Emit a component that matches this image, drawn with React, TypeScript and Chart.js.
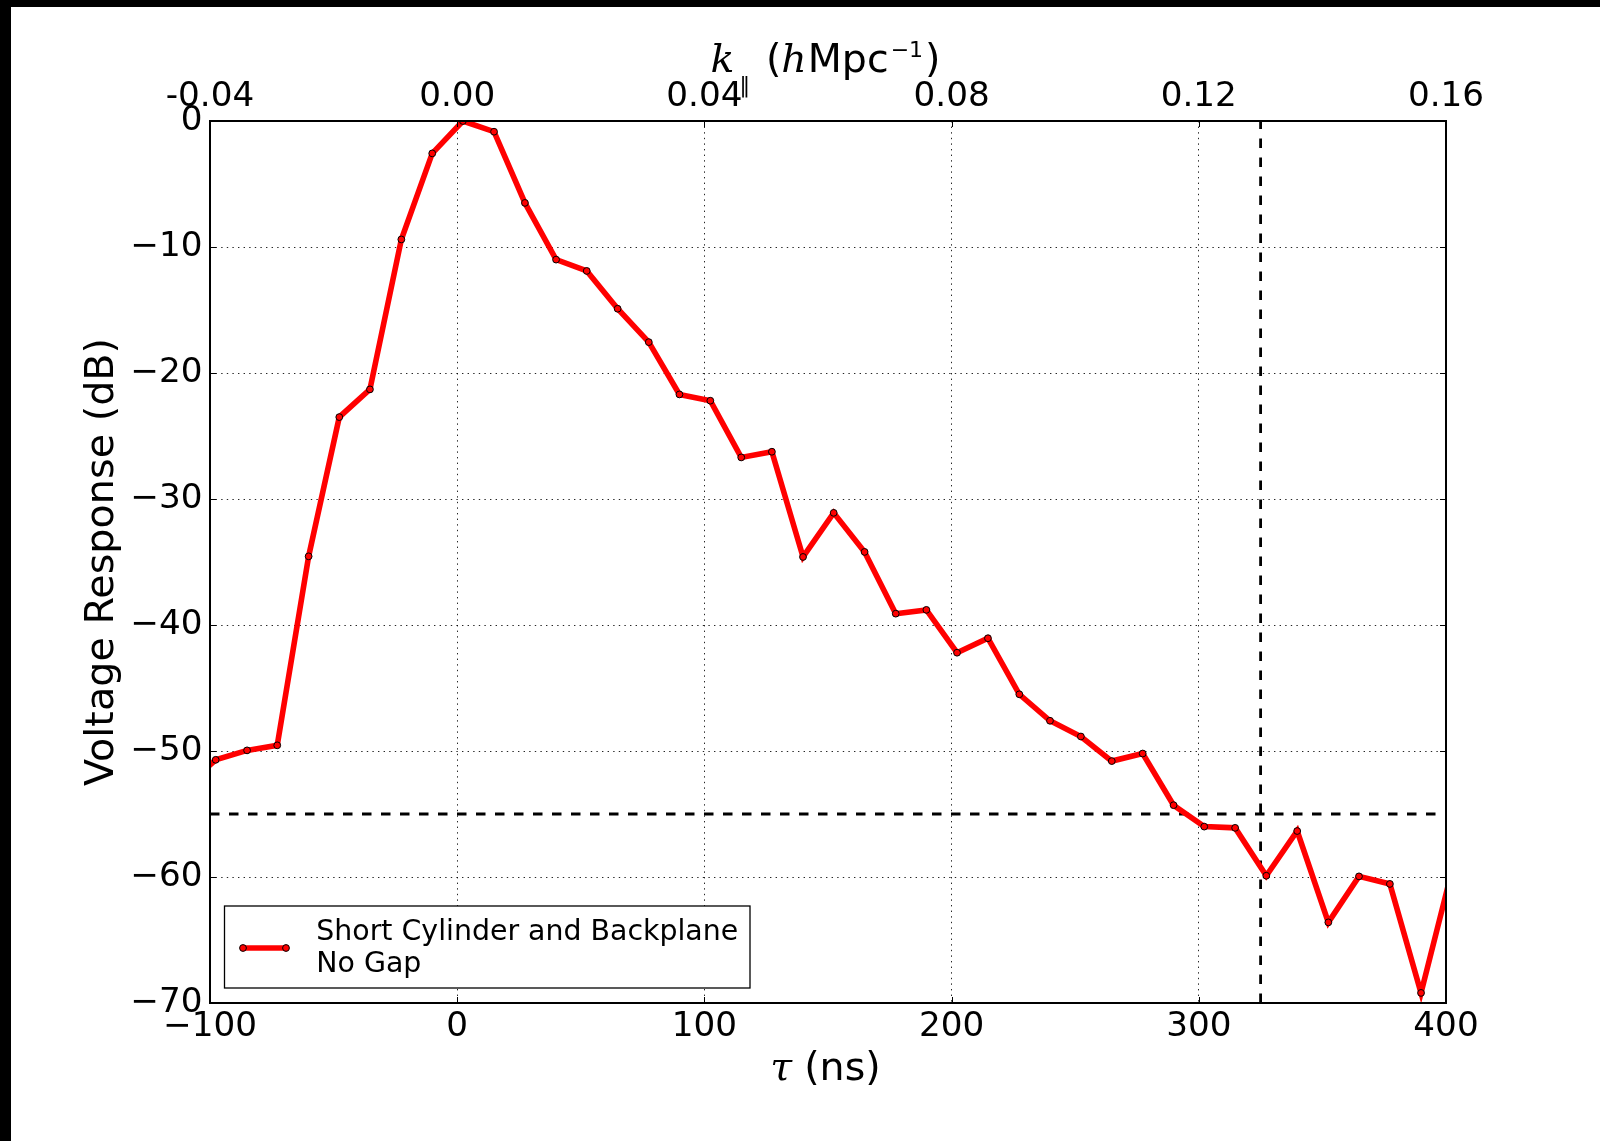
import { useEffect, useRef } from "react";
import { Chart, registerables } from "chart.js";

Chart.register(...registerables);

// Delay (ns) of each sample and the measured voltage response (dB)
const TAU_NS = [
  -110.2, -97.7, -85.0, -72.8, -60.1, -47.7, -35.3, -22.6, -10.1, 2.3,
  14.9, 27.4, 40.0, 52.4, 64.9, 77.5, 89.9, 102.4, 114.9, 127.3,
  139.9, 152.3, 164.8, 177.4, 189.8, 202.2, 214.7, 227.4, 239.8, 252.3,
  264.8, 277.3, 289.8, 302.2, 314.7, 327.3, 339.8, 352.4, 364.8, 377.3,
  389.9, 402.4,
];
const RESPONSE_DB = [
  -52.9, -50.7, -49.95, -49.55, -34.55, -23.5, -21.3, -9.4, -2.57, 0.0,
  -0.85, -6.5, -11.0, -11.9, -14.9, -17.55, -21.7, -22.2, -26.7, -26.25,
  -34.6, -31.1, -34.2, -39.1, -38.8, -42.2, -41.05, -45.5, -47.6, -48.85,
  -50.8, -50.2, -54.3, -56.0, -56.1, -59.9, -56.35, -63.6, -59.95, -60.55,
  -69.2, -59.5,
];

const TAU_TICKS = [-100, 0, 100, 200, 300, 400];
const DB_TICKS = [0, -10, -20, -30, -40, -50, -60, -70];
const K_TICKS = [-0.04, 0.0, 0.04, 0.08, 0.12, 0.16];
const K_TICK_LABELS = ["-0.04", "0.00", "0.04", "0.08", "0.12", "0.16"];

const TAU_MIN = -100;
const TAU_MAX = 400;
const DB_MIN = -70;
const DB_MAX = 0;
const K_MIN = -0.04;
const K_MAX = 0.16;

// Reference levels: response threshold and delay horizon
const THRESHOLD_DB = -55;
const HORIZON_TAU_NS = 325;

const SERIES_LABEL = "Short Cylinder and Backplane\nNo Gap";

const SANS = "'DejaVu Sans', sans-serif";
const SERIF = "'DejaVu Serif', serif";

type Run = { text: string; font: string; gap?: number; dy?: number; w?: number };

function drawRuns(ctx: CanvasRenderingContext2D, runs: Run[], cx: number, baseline: number) {
  let total = 0;
  for (const r of runs) {
    ctx.font = r.font;
    r.w = ctx.measureText(r.text).width;
    total += r.w + (r.gap ?? 0);
  }
  let x = cx - total / 2;
  ctx.textAlign = "left";
  ctx.textBaseline = "alphabetic";
  for (const r of runs) {
    ctx.font = r.font;
    ctx.fillText(r.text, x, baseline + (r.dy ?? 0));
    x += (r.w ?? 0) + (r.gap ?? 0);
  }
}

const formatDb = (v: number) => (v === 0 ? "0" : "\u2212" + Math.abs(v));
const formatTau = (v: number) => (v < 0 ? "\u2212" + Math.abs(v) : String(v));

// Frame, inward ticks, legend and the mixed-font axis titles
const decorations = {
  id: "decorations",
  afterDraw(chart: any) {
    const { ctx, chartArea: ca, scales } = chart;
    ctx.save();

    ctx.strokeStyle = "#000";
    ctx.lineWidth = 1;
    ctx.beginPath();
    for (const v of TAU_TICKS) {
      const px = Math.round(scales.x.getPixelForValue(v)) + 0.5;
      ctx.moveTo(px, ca.bottom);
      ctx.lineTo(px, ca.bottom - 6);
    }
    for (const v of K_TICKS) {
      const px = Math.round(scales.k.getPixelForValue(v)) + 0.5;
      ctx.moveTo(px, ca.top);
      ctx.lineTo(px, ca.top + 6);
    }
    for (const v of DB_TICKS) {
      const py = Math.round(scales.y.getPixelForValue(v)) + 0.5;
      ctx.moveTo(ca.left, py);
      ctx.lineTo(ca.left + 6, py);
      ctx.moveTo(ca.right, py);
      ctx.lineTo(ca.right - 6, py);
    }
    ctx.stroke();

    ctx.lineWidth = 2;
    ctx.strokeRect(ca.left, ca.top, ca.right - ca.left, ca.bottom - ca.top);

    // legend
    const ds = chart.data.datasets[0];
    const lines = String(ds.label).split("\n");
    const bw = 525.5;
    const bh = 82;
    const bx = ca.left + 14.5;
    const by = ca.bottom - 15 - bh;
    ctx.fillStyle = "#fff";
    ctx.fillRect(bx, by, bw, bh);
    ctx.lineWidth = 1.3;
    ctx.strokeStyle = "#000";
    ctx.strokeRect(bx, by, bw, bh);

    const hy = by + 42;
    const hx0 = bx + 18.5;
    const hx1 = bx + 61.5;
    ctx.strokeStyle = ds.borderColor;
    ctx.lineWidth = ds.borderWidth;
    ctx.lineCap = "butt";
    ctx.beginPath();
    ctx.moveTo(hx0, hy);
    ctx.lineTo(hx1, hy);
    ctx.stroke();
    for (const hx of [hx0, hx1]) {
      ctx.beginPath();
      ctx.arc(hx, hy, ds.pointRadius, 0, Math.PI * 2);
      ctx.fillStyle = ds.pointBackgroundColor;
      ctx.fill();
      ctx.lineWidth = ds.pointBorderWidth;
      ctx.strokeStyle = ds.pointBorderColor;
      ctx.stroke();
    }
    ctx.fillStyle = "#000";
    ctx.font = `28.4px ${SANS}`;
    ctx.textAlign = "left";
    ctx.textBaseline = "middle";
    lines.forEach((t, i) => ctx.fillText(t, bx + 91.8, by + 26.6 + i * 32.2));

    // axis titles
    const cx = (ca.left + ca.right) / 2 - 2.5;
    ctx.fillStyle = "#000";
    drawRuns(
      ctx,
      [
        { text: "k", font: `italic 39.5px ${SERIF}`, gap: 5 },
        { text: "\u2016", font: `21px ${SANS}`, gap: 16, dy: 20 },
        { text: "(", font: `39.5px ${SANS}` },
        { text: "h", font: `italic 39.5px ${SERIF}`, gap: 1 },
        { text: "Mpc", font: `39.5px ${SANS}`, gap: 2 },
        { text: "\u22121", font: `22px ${SANS}`, gap: 2, dy: -15 },
        { text: ")", font: `39.5px ${SANS}` },
      ],
      cx,
      ca.top - 49
    );
    drawRuns(
      ctx,
      [
        { text: "\u03c4", font: `italic 39.5px ${SERIF}`, gap: 12 },
        { text: "(ns)", font: `39.5px ${SANS}` },
      ],
      cx,
      ca.bottom + 77
    );

    ctx.restore();
  },
};

export default function App() {
  const canvasRef = useRef<HTMLCanvasElement | null>(null);

  useEffect(() => {
    document.body.style.margin = "0";
    const canvas = canvasRef.current;
    if (!canvas) return;

    const gridDash = [1.4, 4.2];
    const gridColor = "rgba(0,0,0,0.85)";
    const tickFont = { family: SANS, size: 34.2 };

    const chart = new Chart(canvas, {
      type: "line",
      data: {
        datasets: [
          {
            label: SERIES_LABEL,
            data: TAU_NS.map((t, i) => ({ x: t, y: RESPONSE_DB[i] })),
            borderColor: "#ff0000",
            borderWidth: 5.6,
            pointRadius: 3.4,
            pointBackgroundColor: "#ff0000",
            pointBorderColor: "#000",
            pointBorderWidth: 1,
            tension: 0,
            clip: 0,
            order: 0,
          },
          {
            label: "threshold",
            data: [
              { x: TAU_MIN, y: THRESHOLD_DB },
              { x: TAU_MAX, y: THRESHOLD_DB },
            ],
            borderColor: "#000",
            borderWidth: 2.8,
            borderDash: [9.5, 9.5],
            pointRadius: 0,
            clip: 0,
            order: 1,
          },
          {
            label: "horizon",
            data: [
              { x: HORIZON_TAU_NS, y: DB_MIN },
              { x: HORIZON_TAU_NS, y: DB_MAX },
            ],
            borderColor: "#000",
            borderWidth: 2.8,
            borderDash: [9.5, 9.5],
            pointRadius: 0,
            clip: 0,
            order: 1,
          },
        ],
      },
      options: {
        animation: false,
        responsive: false,
        devicePixelRatio: 1,
        parsing: false,
        layout: { padding: { left: 0, top: 0, right: 154, bottom: 0 } },
        plugins: {
          legend: { display: false },
          tooltip: { enabled: false },
        },
        scales: {
          x: {
            type: "linear",
            position: "bottom",
            min: TAU_MIN,
            max: TAU_MAX,
            afterBuildTicks: (axis: any) => {
              axis.ticks = TAU_TICKS.map((value) => ({ value }));
            },
            afterFit: (axis: any) => {
              axis.height = 138;
            },
            ticks: {
              callback: (v: any) => formatTau(Number(v)),
              font: tickFont,
              color: "#000",
              padding: 3.5,
              maxRotation: 0,
              minRotation: 0,
              autoSkip: false,
            },
            grid: { color: gridColor, lineWidth: 1, drawTicks: false },
            border: { display: false, dash: gridDash },
          },
          k: {
            type: "linear",
            position: "top",
            min: K_MIN,
            max: K_MAX,
            afterBuildTicks: (axis: any) => {
              axis.ticks = K_TICKS.map((value) => ({ value }));
            },
            afterFit: (axis: any) => {
              axis.height = 114;
            },
            ticks: {
              callback: (_v: any, i: number) => K_TICK_LABELS[i],
              font: tickFont,
              color: "#000",
              padding: 3,
              maxRotation: 0,
              minRotation: 0,
              autoSkip: false,
            },
            grid: { display: false, drawTicks: false },
            border: { display: false },
          },
          y: {
            type: "linear",
            position: "left",
            min: DB_MIN,
            max: DB_MAX,
            afterBuildTicks: (axis: any) => {
              axis.ticks = DB_TICKS.map((value) => ({ value }));
            },
            afterFit: (axis: any) => {
              axis.width = 199;
            },
            ticks: {
              callback: (v: any) => formatDb(Number(v)),
              font: tickFont,
              color: "#000",
              padding: 7.5,
              autoSkip: false,
            },
            title: {
              display: true,
              text: "Voltage Response (dB)",
              color: "#000",
              font: { family: SANS, size: 39.7 },
              padding: { top: 67.5, bottom: 0 },
            },
            grid: { color: gridColor, lineWidth: 1, drawTicks: false },
            border: { display: false, dash: gridDash },
          },
        },
      } as any,
      plugins: [decorations],
    });

    return () => chart.destroy();
  }, []);

  return (
    <div
      style={{
        position: "fixed",
        left: 0,
        top: 0,
        width: 1600,
        height: 1141,
        background: "#000",
        overflow: "hidden",
      }}
    >
      <canvas
        ref={canvasRef}
        width={1589}
        height={1134}
        style={{ position: "absolute", left: 11, top: 7, background: "#fff", display: "block" }}
      />
    </div>
  );
}
